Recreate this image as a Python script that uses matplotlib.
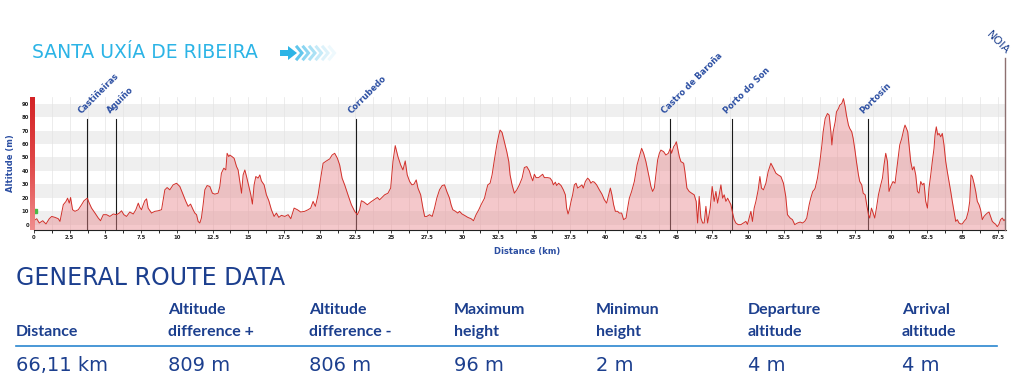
import numpy as np
import matplotlib
matplotlib.use("Agg")
import matplotlib.pyplot as plt
from matplotlib.lines import Line2D
from matplotlib.patches import Polygon
from matplotlib.colors import LinearSegmentedColormap

# elevation profile: (distance km, altitude m)
profile = [
    (0.0, 2.9), (0.19, 4.4), (0.37, 1.2), (0.61, 2.9), (0.84, 0.5), (1.07, 4.4), (1.24, 6.1), (1.47, 5.4),
    (1.70, 4.4), (1.82, 2.4), (2.05, 14.8), (2.24, 17.3), (2.35, 19.7), (2.47, 16.0), (2.56, 20.2), (2.70, 11.1),
    (2.87, 9.9), (3.10, 11.1), (3.33, 14.8), (3.50, 17.8), (3.73, 19.7), (3.87, 16.0), (4.03, 12.3), (4.27, 8.6),
    (4.50, 4.9), (4.66, 2.9), (4.85, 7.4), (5.08, 7.4), (5.31, 6.1), (5.55, 7.9), (5.78, 7.4), (5.97, 8.6),
    (6.13, 10.3), (6.29, 7.4), (6.48, 6.1), (6.71, 9.4), (6.95, 7.9), (7.13, 11.1), (7.30, 16.0), (7.41, 12.8),
    (7.53, 11.1), (7.65, 14.8), (7.76, 17.8), (7.88, 19.2), (7.99, 12.3), (8.23, 8.6), (8.46, 9.9), (8.69, 10.3),
    (8.93, 11.1), (9.16, 25.9), (9.32, 27.6), (9.51, 25.9), (9.74, 29.6), (9.98, 30.8), (10.21, 28.4), (10.40, 23.4),
    (10.63, 17.3), (10.79, 13.6), (10.96, 15.3), (11.14, 11.1), (11.26, 8.6), (11.38, 7.4), (11.49, 2.4), (11.61, 1.2),
    (11.72, 4.9), (11.84, 14.8), (11.96, 25.9), (12.12, 29.1), (12.31, 28.4), (12.49, 23.4), (12.66, 22.7), (12.89, 23.4),
    (13.01, 28.4), (13.12, 38.3), (13.29, 42.0), (13.43, 40.7), (13.52, 53.1), (13.64, 50.6),
    (13.71, 51.8), (13.87, 50.6), (14.01, 49.4), (14.18, 43.2), (14.29, 40.7), (14.41, 32.1), (14.53, 23.4), (14.64, 37.0),
    (14.76, 40.7), (14.88, 35.8), (14.99, 30.8), (15.18, 22.2), (15.29, 15.3), (15.41, 29.6), (15.53, 35.8), (15.69, 34.6),
    (15.81, 37.0), (15.92, 32.6), (16.11, 29.6), (16.27, 22.2), (16.44, 17.8), (16.62, 11.1), (16.81, 6.1), (16.97, 8.6),
    (17.14, 5.4), (17.32, 6.9), (17.56, 6.1), (17.79, 7.4), (17.98, 4.4), (18.21, 12.3), (18.44, 11.1), (18.67, 9.4),
    (18.95, 9.9), (19.19, 11.1), (19.37, 12.3), (19.54, 17.3), (19.70, 13.6), (19.89, 22.2), (20.07, 34.6), (20.24, 45.7),
    (20.47, 47.4), (20.70, 48.9), (20.87, 51.8), (21.05, 53.1), (21.24, 49.4), (21.40, 44.4), (21.57, 34.6), (21.75, 29.6),
    (21.98, 22.2), (22.22, 14.8), (22.45, 9.9), (22.64, 7.4), (22.80, 11.1), (22.92, 17.8), (23.10, 16.8), (23.34, 14.8),
    (23.57, 16.8), (23.80, 18.5), (24.04, 20.2), (24.20, 18.5), (24.36, 20.2), (24.55, 22.2), (24.78, 23.4), (24.97, 27.2),
    (25.13, 46.9), (25.29, 58.8), (25.48, 50.6), (25.67, 44.4), (25.83, 40.7), (25.99, 47.4), (26.13, 37.0), (26.30, 32.1),
    (26.46, 29.6), (26.60, 30.1), (26.76, 33.3), (26.88, 27.2), (27.07, 22.2), (27.23, 12.3), (27.35, 6.1),
    (27.50, 6.1), (27.69, 7.4), (27.88, 6.1), (28.04, 12.3), (28.20, 19.7), (28.39, 25.9), (28.58, 29.1), (28.74, 29.6),
    (28.90, 24.7), (29.09, 19.7), (29.20, 14.8), (29.32, 11.1), (29.51, 9.9), (29.67, 8.6), (29.79, 9.9), (29.97, 7.9),
    (30.14, 6.9), (30.37, 5.4), (30.60, 4.4), (30.77, 2.9), (30.95, 7.4), (31.14, 11.1), (31.30, 14.8), (31.54, 19.7),
    (31.65, 24.7), (31.77, 29.6), (31.93, 30.8), (32.07, 37.0), (32.23, 48.1), (32.40, 59.3), (32.54, 66.7), (32.63, 70.4),
    (32.77, 68.6), (32.93, 61.7), (33.10, 54.3), (33.24, 46.9), (33.33, 37.0), (33.47, 29.6), (33.63, 23.4), (33.80, 25.9),
    (33.98, 29.6), (34.17, 34.6), (34.33, 42.5), (34.50, 43.2), (34.68, 40.0), (34.80, 35.8), (34.92, 32.6), (35.03, 37.5),
    (35.15, 35.0), (35.33, 35.0), (35.50, 36.5), (35.61, 37.5), (35.73, 35.0), (35.96, 35.0), (36.13, 34.6), (36.27, 32.6),
    (36.36, 29.6), (36.50, 31.6), (36.59, 29.1), (36.73, 30.8), (36.90, 29.1), (37.06, 25.9), (37.20, 22.2), (37.29, 12.3),
    (37.39, 7.9), (37.48, 11.1), (37.60, 17.3), (37.71, 22.2), (37.83, 29.6), (37.95, 30.8), (38.06, 27.2), (38.23, 28.4),
    (38.36, 29.6), (38.46, 27.2), (38.60, 32.1), (38.76, 34.6), (38.88, 33.3), (38.99, 30.8), (39.11, 32.1), (39.23, 31.6),
    (39.39, 29.6), (39.58, 25.9), (39.76, 22.7), (39.93, 18.5), (40.09, 16.0), (40.23, 22.2), (40.35, 27.2), (40.46, 22.2),
    (40.58, 14.8), (40.70, 9.9), (40.86, 9.9), (40.98, 8.6),
    (41.14, 8.6), (41.28, 3.7), (41.45, 4.9), (41.56, 12.3), (41.68, 19.7), (41.84, 24.7), (42.03, 32.1), (42.22, 44.4),
    (42.38, 50.6), (42.54, 56.8), (42.68, 53.1), (42.84, 46.9), (42.96, 40.7), (43.08, 34.6), (43.19, 28.4), (43.31, 24.7),
    (43.43, 27.2), (43.54, 37.0), (43.66, 48.1), (43.78, 53.1), (43.89, 55.5), (44.08, 54.3), (44.24, 51.8), (44.41, 53.1),
    (44.55, 56.8), (44.64, 53.1), (44.78, 58.0), (44.87, 59.3), (44.97, 61.7), (45.06, 56.8), (45.18, 50.6), (45.29, 46.9),
    (45.48, 45.7), (45.57, 39.5), (45.71, 27.2), (45.87, 24.7), (46.04, 23.4), (46.22, 22.2), (46.36, 17.3), (46.46, 1.2),
    (46.57, 21.0), (46.69, 4.9), (46.81, 1.2), (46.92, 1.2), (47.04, 13.6), (47.16, 1.2), (47.34, 12.3), (47.48, 28.4),
    (47.62, 17.3), (47.74, 24.7), (47.86, 16.0), (47.97, 22.2), (48.09, 29.6), (48.21, 19.7), (48.32, 22.2), (48.44, 17.3),
    (48.56, 19.7), (48.67, 17.3), (48.79, 14.8), (48.91, 8.6), (49.02, 3.7), (49.14, 1.2), (49.30, 0.0), (49.49, 0.0),
    (49.67, 1.2), (49.84, 2.4), (49.95, 0.2), (50.07, 4.9), (50.19, 9.9), (50.30, 2.4), (50.42, 12.3), (50.54, 17.3),
    (50.70, 25.9), (50.82, 35.8), (50.93, 27.2), (51.07, 25.9), (51.24, 30.8), (51.40, 39.5), (51.59, 45.7), (51.77, 42.0),
    (51.94, 38.3), (52.10, 37.0), (52.29, 35.8), (52.47, 30.8), (52.63, 21.0), (52.75, 7.4), (52.94, 4.9), (53.10, 3.7),
    (53.26, 0.0), (53.45, 1.2), (53.64, 1.9), (53.80, 1.2), (53.96, 2.4), (54.10, 4.9), (54.27, 14.8), (54.38, 19.7),
    (54.52, 24.7), (54.62, 25.9),
    (54.69, 27.2), (54.85, 34.6), (55.02, 46.9), (55.16, 59.3), (55.25, 69.1), (55.39, 79.0), (55.55, 82.7), (55.67, 81.5),
    (55.79, 69.1), (55.86, 59.3), (55.95, 69.1), (56.09, 76.5), (56.18, 83.9), (56.32, 86.4), (56.41, 88.9), (56.55, 90.1),
    (56.67, 93.8), (56.79, 87.7), (56.88, 81.5), (57.02, 74.1), (57.11, 71.6), (57.25, 69.1), (57.35, 64.2), (57.49, 54.3),
    (57.58, 46.9), (57.72, 37.0), (57.81, 32.1), (57.95, 29.6), (58.05, 23.4), (58.19, 22.2), (58.28, 16.0), (58.42, 7.4),
    (58.51, 4.9), (58.63, 12.3), (58.75, 8.6), (58.86, 4.9), (58.98, 12.3), (59.12, 22.2), (59.28, 29.6), (59.40, 34.6),
    (59.51, 44.4), (59.63, 53.1), (59.75, 46.9), (59.86, 24.7), (59.98, 28.4), (60.14, 32.1), (60.28, 30.8), (60.38, 39.5),
    (60.52, 51.8), (60.61, 59.3), (60.75, 64.2), (60.91, 71.6), (60.98, 74.1), (61.08, 71.6), (61.17, 69.1), (61.26, 59.3),
    (61.38, 46.9), (61.50, 40.7), (61.61, 43.2), (61.73, 37.0), (61.85, 24.7), (61.96, 23.4), (62.08, 32.1), (62.20, 29.6),
    (62.31, 30.8), (62.43, 17.3), (62.55, 12.3), (62.66, 27.2), (62.78, 37.0), (62.89, 46.9), (63.01, 56.8), (63.08, 66.7),
    (63.17, 72.8), (63.27, 66.7), (63.36, 67.9), (63.48, 65.4), (63.59, 67.9), (63.71, 59.3), (63.83, 46.9), (63.94, 39.5),
    (64.06, 32.1), (64.18, 24.7), (64.29, 17.3), (64.41, 9.9), (64.53, 2.4), (64.64, 3.7), (64.76, 1.2), (64.88, 0.5),
    (64.99, 0.5), (65.11, 2.4), (65.27, 4.4), (65.41, 9.9), (65.51, 17.3), (65.60, 37.0), (65.69, 35.8), (65.81, 30.8),
    (65.93, 24.7), (66.04, 17.3), (66.16, 14.8), (66.27, 11.1), (66.39, 3.7), (66.51, 6.1), (66.62, 7.4), (66.74, 8.6),
    (66.86, 9.4), (66.97, 6.1), (67.09, 2.4), (67.21, 1.2), (67.32, 0.3), (67.44, -1.5), (67.56, 0.3), (67.67, 3.7),
    (67.79, 4.9), (67.91, 2.9), (68.02, 4.4),
]

places = ["Castiñeiras", "Aguiño", "Corrubedo", "Castro de Baroña", "Porto do Son", "Portosín"]
place_km = [3.7, 5.73, 22.57, 44.55, 48.88, 58.42]
end_name = "NOIA"
end_km = 68.0

head_top = ["", "Altitude", "Altitude", "Maximum", "Minimun", "Departure", "Arrival"]
head_bottom = ["Distance", "difference +", "difference -", "height", "height", "altitude", "altitude"]
values = ["66,11 km", "809 m", "806 m", "96 m", "2 m", "4 m", "4 m"]

W, H = 1018, 390
blue = "#1c3f8e"
label_blue = "#2b4ea2"
cyan = "#2cb4e6"


def fx(x):
    return x / W


def fy(y):
    return 1 - y / H


fig = plt.figure(figsize=(W / 100, H / 100), dpi=100)

# --- profile chart ---
ax = fig.add_axes([fx(34), fy(230), 972 / W, 133 / H])
ax.set_xlim(0, 68.05)
ax.set_ylim(-4, 95)

for lo in [0, 20, 40, 60, 80]:
    ax.axhspan(lo, lo + 10, color="#efefef", lw=0, zorder=0)
for g in np.arange(1.25, 68, 1.25):
    ax.axvline(g, color="#e4e4e4", lw=0.5, zorder=0.5)

km = np.array([p[0] for p in profile])
alt = np.array([p[1] for p in profile])

for name, k in zip(places, place_km):
    ax.plot([k, k], [-4, 78.5], color="#1a1a1a", lw=0.8, zorder=1)
    ax.annotate(name, xy=(k, 78.5), xytext=(-2.5, 3), textcoords="offset points",
                rotation=45, rotation_mode="anchor", ha="left", va="bottom",
                fontsize=6, fontweight="bold", color=label_blue)

ax.fill_between(km, alt, -4, color="#e8878c", alpha=0.45, lw=0, zorder=2)
ax.plot(km, alt, color="#d2302a", lw=0.7, zorder=3)

# NOIA end marker
ax.plot([end_km, end_km], [-4, 124], color="#8d7070", lw=1.0, clip_on=False, zorder=4)
ax.annotate(end_name, xy=(end_km, 124), xytext=(-1, 1), textcoords="offset points",
            rotation=-45, rotation_mode="anchor", ha="right", va="bottom",
            fontsize=8, color=blue, annotation_clip=False)

# start marker
ax.plot([0.05], [10.5], marker="s", color="#4db848", ms=3.5, clip_on=False, zorder=6)

for s in ["top", "right", "left"]:
    ax.spines[s].set_visible(False)
ax.spines["bottom"].set_color("#222222")
ax.spines["bottom"].set_linewidth(0.8)

xt = np.arange(0, 68, 2.5)
ax.set_xticks(xt)
ax.set_xticklabels([str(int(t)) if t % 5 == 0 else f"{t:.1f}" for t in xt])
ax.set_xticks(np.arange(1.25, 68, 2.5), minor=True)
ax.set_yticks(range(0, 100, 10))
ax.tick_params(axis="both", labelsize=3.8, length=2, width=0.6, pad=1.5, colors="#222222")
ax.tick_params(axis="x", which="minor", length=2, width=0.6)
for t in ax.get_xticklabels() + ax.get_yticklabels():
    t.set_fontweight("bold")

ax.set_ylabel("Altitude (m)", fontsize=6, fontweight="bold", color=label_blue)
ax.yaxis.set_label_coords(-0.02, 0.5)
ax.set_xlabel("Distance (km)", fontsize=6, fontweight="bold", color=label_blue)
ax.xaxis.set_label_coords(0.507, -0.13)

# red altitude bar on the left
bar = fig.add_axes([fx(29.5), fy(230), 4.5 / W, 133 / H])
cmap = LinearSegmentedColormap.from_list("bar", ["#f08c8c", "#e04848", "#d42326"])
bar.imshow(np.linspace(1, 0, 60).reshape(-1, 1), aspect="auto", cmap=cmap)
bar.axis("off")

# --- title with arrow ---
fig.text(fx(32), fy(58), "SANTA UXÍA DE RIBEIRA", fontsize=13.5, color=cyan,
         family="DejaVu Sans", va="baseline", ha="left")
fig.add_artist(Polygon([(fx(280), fy(50)), (fx(288), fy(50)), (fx(288), fy(46)), (fx(297), fy(53)),
                        (fx(288), fy(60)), (fx(288), fy(56)), (fx(280), fy(56))],
                       closed=True, color=cyan, transform=fig.transFigure, lw=0))
for i, a in enumerate([0.75, 0.55, 0.4, 0.27, 0.16, 0.08]):
    x0 = 297 + i * 6.5
    fig.add_artist(Line2D([fx(x0), fx(x0 + 5), fx(x0)], [fy(47), fy(53), fy(59)],
                          color=cyan, alpha=a, lw=2.2, transform=fig.transFigure,
                          solid_joinstyle="miter"))

# --- route data table ---
fig.text(fx(16), fy(285), "GENERAL ROUTE DATA", fontsize=17, color=blue,
         family="DejaVu Sans", va="baseline", ha="left")

col_x = [16, 168, 309, 454, 596, 748, 902]
for x, t1, t2, v in zip(col_x, head_top, head_bottom, values):
    fig.text(fx(x), fy(314), t1, fontsize=11.5, fontweight="bold", family="Lato",
             color=blue, va="baseline", ha="left")
    fig.text(fx(x), fy(336), t2, fontsize=11.5, fontweight="bold", family="Lato",
             color=blue, va="baseline", ha="left")
    fig.text(fx(x), fy(371), v, fontsize=14, family="DejaVu Sans",
             color=blue, va="baseline", ha="left")

fig.add_artist(Line2D([fx(16), fx(997)], [fy(346), fy(346)], color="#2a86cf", lw=1.2,
                      transform=fig.transFigure))

fig.savefig("out.png", dpi=100)
